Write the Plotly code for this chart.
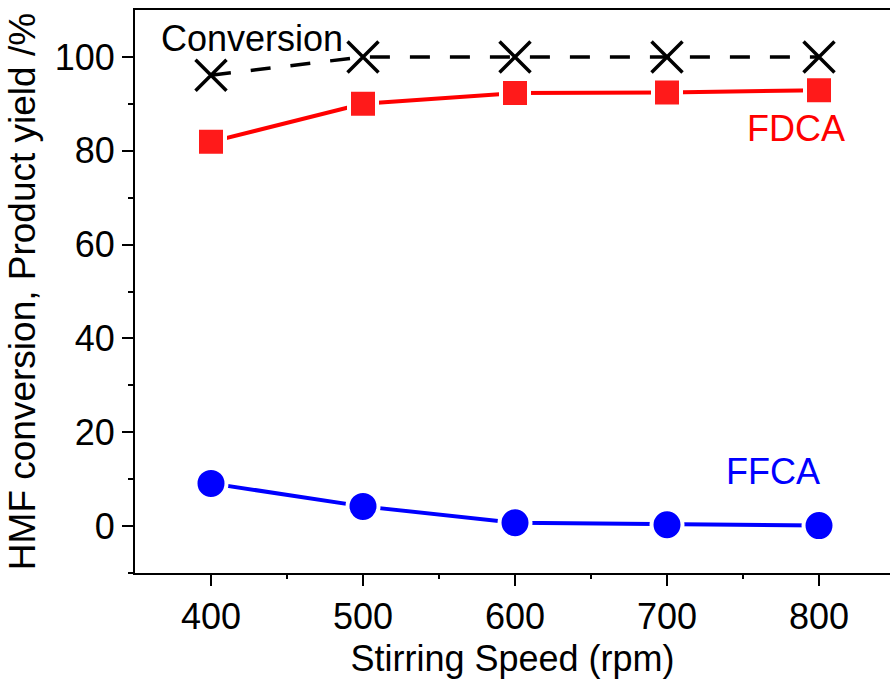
import plotly.graph_objects as go

speed = [400, 500, 600, 700, 800]
conversion = [96.1, 100, 100, 100, 100]
fdca = [81.9, 90.0, 92.3, 92.4, 92.9]
ffca = [9.1, 4.2, 0.7, 0.3, 0.1]

FONT = "Liberation Sans, Arial, sans-serif"

fig = go.Figure()
fig.add_trace(go.Scatter(
    x=speed, y=conversion, mode="lines+markers",
    line=dict(color="black", width=3.5, dash="20px,20px"),
    marker=dict(symbol="x-thin-open", size=31, color="black",
                line=dict(color="black", width=3.5)),
))
fig.add_trace(go.Scatter(
    x=speed, y=fdca, mode="lines+markers",
    line=dict(color="#ff0000", width=4),
    marker=dict(symbol="square", size=28, color="#ff1a1a",
                line=dict(color="white", width=4)),
))
fig.add_trace(go.Scatter(
    x=speed, y=ffca, mode="lines+markers",
    line=dict(color="#0000ff", width=4),
    marker=dict(symbol="circle", size=31, color="#0000ff",
                line=dict(color="white", width=4)),
))

fig.add_annotation(x=400, y=104, xref="x", yref="y", text="Conversion",
                   showarrow=False, xanchor="left", xshift=-52,
                   font=dict(family=FONT, size=36, color="black"))
fig.add_annotation(x=785, y=84.8, xref="x", yref="y", text="FDCA",
                   showarrow=False,
                   font=dict(family=FONT, size=36, color="#ff0000"))
fig.add_annotation(x=770, y=11.6, xref="x", yref="y", text="FFCA",
                   showarrow=False,
                   font=dict(family=FONT, size=36, color="#0000ff"))

fig.update_layout(
    width=890, height=679,
    margin=dict(l=135, r=0, t=10, b=106),
    paper_bgcolor="white", plot_bgcolor="white",
    showlegend=False,
    font=dict(family=FONT, size=36, color="black"),
)
fig.update_xaxes(
    range=[350, 846.7], tickvals=[400, 500, 600, 700, 800],
    showgrid=False, zeroline=False,
    showline=True, linecolor="black", linewidth=2, mirror=True,
    ticks="outside", ticklen=11, tickwidth=2, tickcolor="black",
    minor=dict(tickvals=[450, 550, 650, 750], ticks="outside", ticklen=4,
               tickwidth=2, tickcolor="black"),
    tickfont=dict(family=FONT, size=36),
    title=dict(text="Stirring Speed (rpm)", font=dict(family=FONT, size=36), standoff=10),
)
fig.update_yaxes(
    range=[-10, 110], tickvals=[0, 20, 40, 60, 80, 100],
    showgrid=False, zeroline=False,
    showline=True, linecolor="black", linewidth=2, mirror=False,
    ticks="outside", ticklen=11, tickwidth=2, tickcolor="black",
    minor=dict(tickvals=[-10, 10, 30, 50, 70, 90], ticks="outside", ticklen=5,
               tickwidth=2, tickcolor="black"),
    tickfont=dict(family=FONT, size=36),
    title=dict(text="HMF conversion, Product yield /%", font=dict(family=FONT, size=37), standoff=8),
)

fig.write_html("out.html")
